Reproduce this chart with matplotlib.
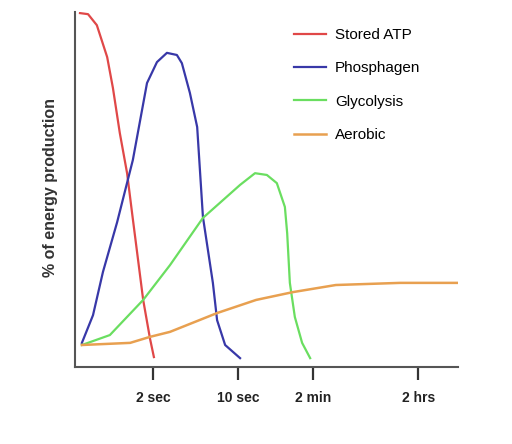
import matplotlib
matplotlib.use("Agg")
import matplotlib.pyplot as plt

plt.rcParams['font.family'] = ['Liberation Sans', 'DejaVu Sans']

# time axis in arbitrary units (0-100), energy share in %
tick_pos = [20.4, 42.6, 62.1, 89.6]
tick_labels = ['2 sec', '10 sec', '2 min', '2 hrs']

atp_x = [1.3, 3.4, 5.7, 8.4, 9.9, 11.7, 13.6, 14.9, 17.8, 19.6, 20.6]
atp_y = [99.7, 99.4, 96.3, 87.3, 78.6, 65.9, 54.6, 43.4, 18.9, 7.9, 2.8]

phos_x = [1.8, 4.7, 7.3, 11.0, 15.1, 18.8, 21.4, 24.0, 26.6, 27.9, 30.0, 31.9,
          33.4, 36.0, 37.1, 39.2, 43.1]
phos_y = [6.8, 14.6, 26.8, 40.8, 58.3, 80.0, 85.9, 88.5, 87.9, 85.6, 77.2, 67.6,
          42.3, 23.7, 13.2, 6.2, 2.5]

glyc_x = [1.8, 9.1, 17.8, 24.8, 33.4, 43.1, 47.0, 50.1, 52.7, 54.8, 55.4, 56.1,
          57.4, 59.3, 61.4]
glyc_y = [6.2, 9.0, 18.9, 28.7, 42.0, 51.3, 54.6, 54.1, 51.8, 45.1, 37.7, 23.7,
          14.1, 6.8, 2.5]

aer_x = [1.8, 14.4, 19.6, 24.8, 37.1, 47.3, 56.9, 68.1, 84.9, 100.0]
aer_y = [6.2, 6.8, 8.5, 9.9, 15.2, 18.9, 21.1, 23.1, 23.7, 23.7]

fig = plt.figure(figsize=(5.12, 4.44), dpi=100)
ax = fig.add_axes([0.1465, 0.1734, 0.748, 0.7995])

ax.plot(atp_x, atp_y, color='#e04848', lw=1.6, label='Stored ATP')
ax.plot(phos_x, phos_y, color='#3838a8', lw=1.6, label='Phosphagen')
ax.plot(glyc_x, glyc_y, color='#6ade60', lw=1.6, label='Glycolysis')
ax.plot(aer_x, aer_y, color='#e8a050', lw=1.8, label='Aerobic')

ax.set_xlim(0, 100)
ax.set_ylim(0, 100)

for s in ['top', 'right']:
    ax.spines[s].set_visible(False)
for s in ['left', 'bottom']:
    ax.spines[s].set_color('#555555')
    ax.spines[s].set_linewidth(1.5)

ax.set_yticks([])
ax.set_xticks(tick_pos)
ax.set_xticklabels(tick_labels, fontweight='bold', fontsize=10, color='#222222')
ax.tick_params(axis='x', direction='out', length=9.5, width=1.6, color='#333333', pad=8)

ax.set_ylabel('% of energy production', fontsize=11.5, fontweight='bold', color='#333333')
ax.yaxis.set_label_coords(-0.044, 0.506)

ax.legend(loc='upper left', bbox_to_anchor=(0.574, 0.937), bbox_transform=fig.transFigure,
          frameon=False, fontsize=11, handlelength=2.1, handletextpad=0.6,
          labelspacing=1.27, borderpad=0, borderaxespad=0)

fig.savefig('out.png', dpi=100)
